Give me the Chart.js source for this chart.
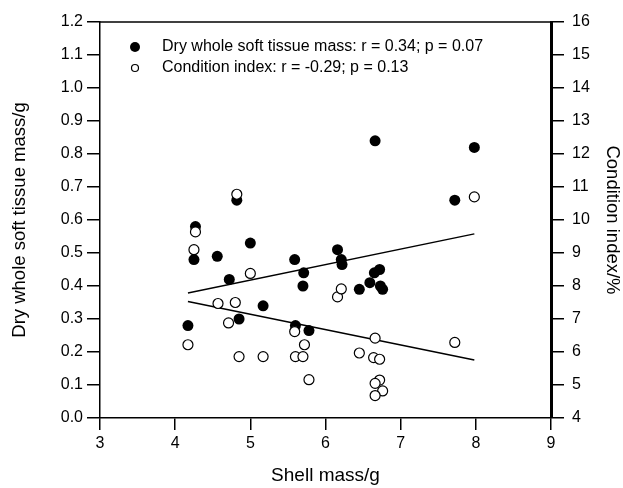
<!DOCTYPE html>
<html>
<head>
<meta charset="utf-8">
<script src="https://cdn.jsdelivr.net/npm/chart.js@4"></script>
<style>
  html, body { margin: 0; padding: 0; background: #fff; }
  #wrap { width: 623px; height: 488px; }
</style>
</head>
<body>
<div id="wrap"><canvas id="chart" width="623" height="488"></canvas></div>
<script>
// shell mass (g) and dry whole soft tissue mass (g), filled circles
const dryShell = [4.17, 4.25, 4.27, 4.56, 4.72, 4.82, 4.85, 5.00, 5.17, 5.59, 5.60, 5.71, 5.70, 5.78,
                  6.16, 6.21, 6.22, 6.45, 6.59, 6.65, 6.72, 6.73, 6.76, 6.66, 7.72, 7.98];
const dryMass  = [0.28, 0.48, 0.58, 0.49, 0.42, 0.66, 0.30, 0.53, 0.34, 0.48, 0.28, 0.44, 0.40, 0.265,
                  0.51, 0.48, 0.465, 0.39, 0.41, 0.44, 0.45, 0.40, 0.39, 0.84, 0.66, 0.82];

// shell mass (g) and condition index (%), open circles
const ciShell = [4.17, 4.25, 4.27, 4.57, 4.71, 4.80, 4.82, 4.85, 5.00, 5.17, 5.59, 5.60, 5.70, 5.72,
                 5.78, 6.16, 6.21, 6.45, 6.64, 6.66, 6.72, 6.72, 6.66, 6.76, 6.66, 7.72, 7.98];
const ciValue = [6.22, 9.10, 9.64, 7.47, 6.88, 7.50, 10.78, 5.86, 8.38, 5.86, 6.62, 5.86, 5.86, 6.22,
                 5.16, 7.67, 7.91, 5.97, 5.83, 6.42, 5.78, 5.15, 5.05, 4.82, 4.68, 6.29, 10.70];

// regression lines
const fitShell = [4.17, 7.98];
const dryFit   = [0.379, 0.558];
const ciFit    = [7.53, 5.76];

const legendLabels = [
  'Dry whole soft tissue mass: r = 0.34; p = 0.07',
  'Condition index: r = -0.29; p = 0.13'
];

const FONT = "'Liberation Sans', Arial, sans-serif";
const toPts = (xs, ys) => xs.map((x, i) => ({x: x, y: ys[i]}));

const frame = {
  id: 'frame',
  afterDraw(chart) {
    const {ctx, chartArea: a} = chart;
    ctx.save();
    ctx.strokeStyle = '#000';
    ctx.lineWidth = 1.5;
    ctx.beginPath();
    ctx.moveTo(a.left, a.top);
    ctx.lineTo(a.right, a.top);
    ctx.stroke();
    // legend inside the plot
    ctx.font = '16px ' + FONT;
    ctx.textBaseline = 'middle';
    ctx.fillStyle = '#000';
    const lx = a.left + 35, ly = a.top + 25;
    ctx.beginPath();
    ctx.arc(lx, ly, 5, 0, Math.PI * 2);
    ctx.fill();
    ctx.beginPath();
    ctx.lineWidth = 1.2;
    ctx.arc(lx, ly + 21, 3.5, 0, Math.PI * 2);
    ctx.stroke();
    ctx.fillText(legendLabels[0], lx + 27, ly);
    ctx.fillText(legendLabels[1], lx + 27, ly + 21);
    ctx.restore();
  }
};

new Chart(document.getElementById('chart'), {
  type: 'scatter',
  data: {
    datasets: [
      {
        label: 'Condition index',
        data: toPts(ciShell, ciValue),
        yAxisID: 'y1',
        pointRadius: 5,
        pointBackgroundColor: '#fff',
        pointBorderColor: '#000',
        pointBorderWidth: 1.2,
        order: 0
      },
      {
        label: 'Dry whole soft tissue mass',
        data: toPts(dryShell, dryMass),
        yAxisID: 'y',
        pointRadius: 5.5,
        pointBackgroundColor: '#000',
        pointBorderColor: '#000',
        pointBorderWidth: 0,
        order: 1
      },
      {
        type: 'line',
        data: toPts(fitShell, dryFit),
        yAxisID: 'y',
        borderColor: '#000',
        borderWidth: 1.5,
        pointRadius: 0,
        order: 2
      },
      {
        type: 'line',
        data: toPts(fitShell, ciFit),
        yAxisID: 'y1',
        borderColor: '#000',
        borderWidth: 1.5,
        pointRadius: 0,
        order: 3
      }
    ]
  },
  options: {
    responsive: false,
    animation: false,
    layout: { padding: { top: 22, left: 0, right: 0, bottom: 0 } },
    plugins: { legend: { display: false }, tooltip: { enabled: false } },
    scales: {
      x: {
        type: 'linear',
        min: 3, max: 9,
        ticks: { stepSize: 1, color: '#000', font: { family: FONT, size: 16 }, padding: 4 },
        grid: { drawOnChartArea: false, drawTicks: true, tickLength: 12, color: '#000', lineWidth: 1.5 },
        border: { display: true, color: '#000', width: 1.5 },
        title: { display: true, text: 'Shell mass/g', color: '#000', font: { family: FONT, size: 19 }, padding: { top: 4, bottom: 1 } },
        afterFit(scale) { scale.height = 70; }
      },
      y: {
        position: 'left',
        min: 0, max: 1.2,
        ticks: { stepSize: 0.1, color: '#000', font: { family: FONT, size: 16 }, padding: 4,
                 callback: v => v.toFixed(1) },
        grid: { drawOnChartArea: false, drawTicks: true, tickLength: 13, color: '#000', lineWidth: 1.5 },
        border: { display: true, color: '#000', width: 1.5 },
        title: { display: true, text: 'Dry whole soft tissue mass/g', color: '#000', font: { family: FONT, size: 18.5 }, padding: { top: 9, bottom: 0 } },
        afterFit(scale) { scale.width = 100; }
      },
      y1: {
        position: 'right',
        min: 4, max: 16,
        ticks: { stepSize: 1, color: '#000', font: { family: FONT, size: 16 }, padding: 8 },
        grid: { drawOnChartArea: false, drawTicks: true, tickLength: 13, color: '#000', lineWidth: 1.5 },
        border: { display: true, color: '#000', width: 3 },
        title: { display: true, text: 'Condition index/%', color: '#000', font: { family: FONT, size: 18.5 }, padding: { top: 0, bottom: 0 } },
        afterFit(scale) { scale.width = 72; }
      }
    }
  },
  plugins: [frame]
});
</script>
</body>
</html>
